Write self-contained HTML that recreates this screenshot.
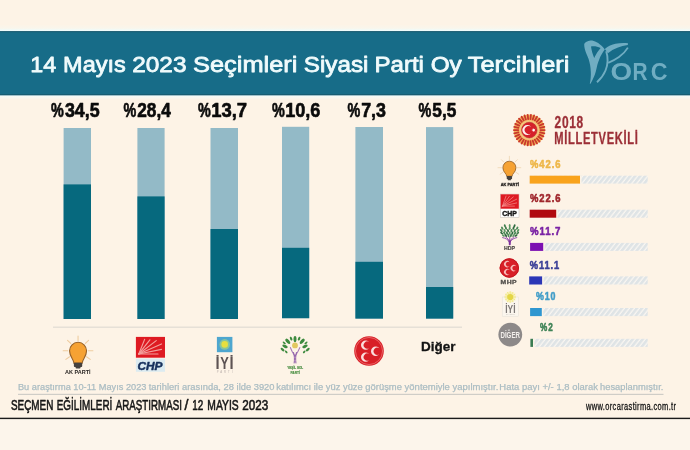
<!DOCTYPE html>
<html lang="tr">
<head>
<meta charset="utf-8">
<title>14 Mayıs 2023 Seçimleri Siyasi Parti Oy Tercihleri</title>
<style>
html,body{margin:0;padding:0;background:#fdf3e6;}
body{width:690px;height:450px;overflow:hidden;position:relative;font-family:"Liberation Sans",sans-serif;}
svg{position:absolute;left:0;top:0;display:block}
text{font-family:"Liberation Sans",sans-serif;}
.b{font-weight:bold}
.i{font-style:italic}
</style>
</head>
<body>
<svg width="690" height="450" viewBox="0 0 690 450">
<defs>
<pattern id="hatch" width="5" height="10" patternUnits="userSpaceOnUse" patternTransform="translate(531 0) skewX(-38)">
<rect x="0" y="0" width="5" height="10" fill="#f9f6f1"/>
<rect x="0" y="0" width="3.4" height="10" fill="#dfe4e6"/>
</pattern>
<linearGradient id="strip" x1="0" y1="0" x2="0" y2="1">
<stop offset="0" stop-color="#fdf3e6"/><stop offset="0.55" stop-color="#f9f6ec"/><stop offset="0.8" stop-color="#effbfa"/><stop offset="1" stop-color="#f4fdfd"/>
</linearGradient>
<linearGradient id="strip2" x1="0" y1="0" x2="0" y2="1">
<stop offset="0" stop-color="#f0fbfa"/><stop offset="0.4" stop-color="#f7f9f3"/><stop offset="1" stop-color="#fdf3e6"/>
</linearGradient>
</defs>
<rect x="0" y="0" width="690" height="450" fill="#fdf3e6"/>

<g id="header">
<rect x="0" y="24.5" width="690" height="7" fill="url(#strip)"/>
<rect x="0" y="95" width="690" height="5" fill="url(#strip2)"/>
<rect x="0" y="31.2" width="690" height="64" fill="#176c88"/>
<rect x="0" y="31.2" width="690" height="1" fill="#1d5b6f"/>
<rect x="0" y="94.1" width="690" height="1.1" fill="#175c72"/>
<text y="72.2" font-size="22.9" fill="#f0fbfc" stroke="#f0fbfc" stroke-width="0.8" stroke-linejoin="round"><tspan x="30.26" textLength="25.93" lengthAdjust="spacingAndGlyphs">14</tspan> <tspan x="63.07" textLength="62.73" lengthAdjust="spacingAndGlyphs">Mayıs</tspan> <tspan x="132.21" textLength="54.26" lengthAdjust="spacingAndGlyphs">2023</tspan> <tspan x="193.00" textLength="104.46" lengthAdjust="spacingAndGlyphs">Seçimleri</tspan> <tspan x="303.83" textLength="64.58" lengthAdjust="spacingAndGlyphs">Siyasi</tspan> <tspan x="374.43" textLength="49.54" lengthAdjust="spacingAndGlyphs">Parti</tspan> <tspan x="430.67" textLength="31.07" lengthAdjust="spacingAndGlyphs">Oy</tspan> <tspan x="467.77" textLength="101.66" lengthAdjust="spacingAndGlyphs">Tercihleri</tspan></text>
</g>
<g id="orc" fill="#70adc2">
<path fill-rule="evenodd" d="M584.2 44 C585 42.5 587.5 40.8 590.5 40.5 C594 40.3 599 43 602.3 46.5 C603.3 47.5 604.2 48.6 604.8 49.6 C602.6 52.6 600.6 56 599.4 58.9 C598.4 61.2 597.8 63.2 597.3 65.1 C596.8 67.2 596.4 69.3 595.8 71.4 C595.2 73.5 594.5 75.6 593.6 77.6 C592.7 79.7 591.6 81.8 590.5 83.8 L589.8 83.8 C590.3 81.7 590.6 79.7 590.7 77.6 C590.9 75.5 590.9 73.5 590.8 71.4 C590.7 69.3 590.5 67.2 590.1 65.1 C589.7 63 589.2 61 588.6 58.9 C588 57.2 587.2 55.5 586.5 53.9 C585.8 52.3 585.2 50.6 584.8 48.9 C584.4 47.3 584.1 45.6 584.2 44 Z M591 46.4 C591.5 50 592.6 54 594.2 58 C596 54 598.2 50.6 600.6 47.9 C597.5 46.3 594 46 591 46.4 Z"/>
<path d="M604.8 49 C608 46 612 44.5 615.5 43.7 C619.5 42.9 624 42.7 628 43.2 L627.8 45 C624 45.5 621 46.3 618 47.5 C614 49 610.5 51 607.9 53.3 C606.9 51.8 605.8 50.3 604.8 49 Z"/>
<path d="M606.2 51.2 C608.4 58 607.9 64.5 605.5 70.5 C603.5 75.3 600.5 79.2 597 82.2" fill="none" stroke="#70adc2" stroke-width="1.9"/>
<path d="M627.9 47.6 C625.5 51.5 622.4 54.6 619 57 C615.6 59.4 612 61.3 608.2 62.8" fill="none" stroke="#70adc2" stroke-width="1.8"/>
<text y="79.9" font-size="24.0" fill="#70adc2" class="b"><tspan x="610.49" textLength="21.60" lengthAdjust="spacingAndGlyphs">O</tspan><tspan x="632.49" textLength="15.07" lengthAdjust="spacingAndGlyphs">R</tspan><tspan x="650.77" textLength="16.76" lengthAdjust="spacingAndGlyphs">C</tspan></text>
</g>
<g id="bars">
<rect x="63.6" y="128.0" width="27.4" height="191.0" fill="#93bac7"/>
<rect x="63.6" y="184.4" width="27.4" height="134.6" fill="#06697e"/>
<rect x="137.4" y="128.0" width="27.2" height="191.0" fill="#93bac7"/>
<rect x="137.4" y="196.4" width="27.2" height="122.6" fill="#06697e"/>
<rect x="210.5" y="128.0" width="27.5" height="191.0" fill="#93bac7"/>
<rect x="210.5" y="229.0" width="27.5" height="90.0" fill="#06697e"/>
<rect x="282.0" y="126.8" width="27.2" height="191.4" fill="#93bac7"/>
<rect x="282.0" y="247.8" width="27.2" height="70.4" fill="#06697e"/>
<rect x="355.4" y="127.0" width="27.6" height="191.6" fill="#93bac7"/>
<rect x="355.4" y="261.8" width="27.6" height="56.8" fill="#06697e"/>
<rect x="426.0" y="127.1" width="27.2" height="191.5" fill="#93bac7"/>
<rect x="426.0" y="287.0" width="27.2" height="31.6" fill="#06697e"/>
<rect x="53" y="326.7" width="409" height="0.9" fill="#d8d5cd"/>
</g>
<g id="vals">
<text y="117.1" font-size="20.4" fill="#0b0b0b" class="b" stroke="#0b0b0b" stroke-width="0.65" stroke-linejoin="round"><tspan x="50.97" textLength="12.78" lengthAdjust="spacingAndGlyphs">%</tspan><tspan x="64.88" textLength="34.75" lengthAdjust="spacingAndGlyphs">34,5</tspan></text>
<text y="117.1" font-size="20.4" fill="#0b0b0b" class="b" stroke="#0b0b0b" stroke-width="0.65" stroke-linejoin="round"><tspan x="123.57" textLength="12.78" lengthAdjust="spacingAndGlyphs">%</tspan><tspan x="137.27" textLength="33.56" lengthAdjust="spacingAndGlyphs">28,4</tspan></text>
<text y="117.1" font-size="20.4" fill="#0b0b0b" class="b" stroke="#0b0b0b" stroke-width="0.65" stroke-linejoin="round"><tspan x="197.97" textLength="12.78" lengthAdjust="spacingAndGlyphs">%</tspan><tspan x="211.14" textLength="35.98" lengthAdjust="spacingAndGlyphs">13,7</tspan></text>
<text y="117.1" font-size="20.4" fill="#0b0b0b" class="b" stroke="#0b0b0b" stroke-width="0.65" stroke-linejoin="round"><tspan x="271.97" textLength="12.78" lengthAdjust="spacingAndGlyphs">%</tspan><tspan x="285.16" textLength="35.21" lengthAdjust="spacingAndGlyphs">10,6</tspan></text>
<text y="117.1" font-size="20.4" fill="#0b0b0b" class="b" stroke="#0b0b0b" stroke-width="0.65" stroke-linejoin="round"><tspan x="347.57" textLength="12.78" lengthAdjust="spacingAndGlyphs">%</tspan><tspan x="361.13" textLength="24.82" lengthAdjust="spacingAndGlyphs">7,3</tspan></text>
<text y="117.1" font-size="20.4" fill="#0b0b0b" class="b" stroke="#0b0b0b" stroke-width="0.65" stroke-linejoin="round"><tspan x="418.57" textLength="12.78" lengthAdjust="spacingAndGlyphs">%</tspan><tspan x="432.36" textLength="24.05" lengthAdjust="spacingAndGlyphs">5,5</tspan></text>
</g>
<g id="logos">
<g>
<line x1="78.05" y1="340.43" x2="78.05" y2="335.93" stroke="#efcda0" stroke-width="1.10" stroke-linecap="round"/>
<line x1="85.38" y1="343.47" x2="88.57" y2="340.28" stroke="#efcda0" stroke-width="1.10" stroke-linecap="round"/>
<line x1="70.72" y1="343.47" x2="67.53" y2="340.28" stroke="#efcda0" stroke-width="1.10" stroke-linecap="round"/>
<line x1="88.42" y1="350.80" x2="92.92" y2="350.80" stroke="#efcda0" stroke-width="1.10" stroke-linecap="round"/>
<line x1="67.68" y1="350.80" x2="63.17" y2="350.80" stroke="#efcda0" stroke-width="1.10" stroke-linecap="round"/>
<line x1="86.54" y1="356.75" x2="90.23" y2="359.33" stroke="#efcda0" stroke-width="1.10" stroke-linecap="round"/>
<line x1="69.56" y1="356.75" x2="65.87" y2="359.33" stroke="#efcda0" stroke-width="1.10" stroke-linecap="round"/>
<path d="M73.88 363.12 C73.88 359.56 69.55 356.75 69.55 350.80 A8.50 8.50 0 0 1 86.55 350.80 C86.55 356.75 82.22 359.56 82.22 363.12 Z" fill="#f6a233" stroke="#96622a" stroke-width="1.10"/>
<rect x="73.88" y="362.70" width="8.33" height="4.25" rx="0.85" fill="#45413e"/>
<rect x="75.55" y="366.52" width="5.00" height="1.87" rx="0.85" fill="#45413e"/>
<text transform="translate(65.06 374.0) scale(1.1246 1)" font-size="4.9" fill="#2a2624" class="b">AK PARTİ</text>
</g>
<g>
<rect x="135.9" y="336.9" width="29.1" height="20.8" fill="#de1a22"/>
<line x1="138.81" y1="353.96" x2="144.63" y2="339.40" stroke="#f3a09c" stroke-width="1.16" stroke-linecap="round"/>
<line x1="138.81" y1="353.96" x2="149.87" y2="339.81" stroke="#f3a09c" stroke-width="1.16" stroke-linecap="round"/>
<line x1="138.81" y1="353.96" x2="156.27" y2="340.64" stroke="#f3a09c" stroke-width="1.16" stroke-linecap="round"/>
<line x1="138.81" y1="353.96" x2="161.51" y2="343.97" stroke="#f3a09c" stroke-width="1.16" stroke-linecap="round"/>
<line x1="138.81" y1="353.96" x2="161.51" y2="349.38" stroke="#f3a09c" stroke-width="1.16" stroke-linecap="round"/>
<line x1="138.81" y1="353.96" x2="158.02" y2="353.96" stroke="#f3a09c" stroke-width="1.16" stroke-linecap="round"/>
<rect x="135.9" y="358.6" width="29.1" height="13.2" fill="#dcebf1"/>
<text transform="translate(137.49 369.5) scale(1.0138 1)" font-size="11.7" fill="#16305c" class="b i" stroke="#16305c" stroke-width="0.5" stroke-linejoin="round">CHP</text>
</g>
<g>
<rect x="216.9" y="336.9" width="15.5" height="15.3" fill="#4ea6cf"/>
<circle cx="224.7" cy="344.4" r="5.3" fill="#9ccf8b" opacity="0.75"/>
<circle cx="224.7" cy="344.4" r="3.3" fill="#e6df3f"/>
<text y="368.9" font-size="16.0" fill="#5d5353" class="b"><tspan x="215.61" textLength="4.09" lengthAdjust="spacingAndGlyphs">İ</tspan><tspan x="220.18" textLength="8.54" lengthAdjust="spacingAndGlyphs">Y</tspan><tspan x="229.51" textLength="4.09" lengthAdjust="spacingAndGlyphs">İ</tspan></text>
<text transform="translate(216.67 373.2) scale(0.9000 1)" font-size="3.1" fill="#b9aeaa" letter-spacing="2.175">PARTİ</text>
</g>
<g>
<ellipse cx="295.00" cy="339.11" rx="1.50" ry="3.10" transform="rotate(0 295.00 339.11)" fill="#3d8a3e"/>
<ellipse cx="291.11" cy="338.67" rx="1.10" ry="2.00" transform="rotate(-25 291.11 338.67)" fill="#3d8a3e"/>
<ellipse cx="299.11" cy="338.67" rx="1.10" ry="2.00" transform="rotate(25 299.11 338.67)" fill="#3d8a3e"/>
<ellipse cx="287.78" cy="341.33" rx="1.60" ry="3.20" transform="rotate(-40 287.78 341.33)" fill="#3d8a3e"/>
<ellipse cx="302.22" cy="341.33" rx="1.60" ry="3.20" transform="rotate(40 302.22 341.33)" fill="#3d8a3e"/>
<ellipse cx="285.00" cy="346.33" rx="1.50" ry="2.90" transform="rotate(-65 285.00 346.33)" fill="#3d8a3e"/>
<ellipse cx="305.00" cy="346.33" rx="1.50" ry="2.90" transform="rotate(65 305.00 346.33)" fill="#3d8a3e"/>
<ellipse cx="282.56" cy="349.56" rx="1.20" ry="2.30" transform="rotate(-50 282.56 349.56)" fill="#3d8a3e"/>
<ellipse cx="307.78" cy="349.56" rx="1.20" ry="2.30" transform="rotate(50 307.78 349.56)" fill="#3d8a3e"/>
<ellipse cx="286.22" cy="351.89" rx="0.90" ry="1.70" transform="rotate(-40 286.22 351.89)" fill="#3d8a3e"/>
<ellipse cx="304.22" cy="351.89" rx="0.90" ry="1.70" transform="rotate(40 304.22 351.89)" fill="#3d8a3e"/>
<ellipse cx="284.22" cy="342.89" rx="0.90" ry="1.80" transform="rotate(-55 284.22 342.89)" fill="#3d8a3e"/>
<ellipse cx="306.00" cy="342.89" rx="0.90" ry="1.80" transform="rotate(55 306.00 342.89)" fill="#3d8a3e"/>
<circle cx="295" cy="345.4" r="2.9" fill="#e2c860"/>
<path d="M290.4 347.6 C291.8 351.5 293.8 354.5 295 356.2 C296.2 354.5 298.2 351.5 299.8 347.6" fill="none" stroke="#a178b6" stroke-width="1.1" stroke-linecap="round"/>
<path d="M293.6 352.5 C294.6 356 294.6 359.5 294.2 363 M296.4 352.5 C295.5 356 295.5 359.5 295.9 363" fill="none" stroke="#8e5aa8" stroke-width="1" stroke-linecap="round"/>
<text transform="translate(287.22 369.0) scale(0.7729 1)" font-size="4.0" fill="#4e9146" class="b" stroke="#4e9146" stroke-width="0.2" stroke-linejoin="round">YEŞİL SOL</text>
<text transform="translate(290.46 373.6) scale(0.8099 1)" font-size="4.0" fill="#4e9146" class="b" stroke="#4e9146" stroke-width="0.2" stroke-linejoin="round">PARTİ</text>
</g>
<g>
<circle cx="369" cy="351" r="14.8" fill="#d81f27"/>
<circle cx="369" cy="351" r="13.54" fill="none" stroke="#ec6a6c" stroke-width="0.89"/>
<path fill="#fbdedd" d="M369.42 342.23 A4.70 4.70 0 1 0 369.42 347.97 A3.60 3.60 0 1 1 369.42 342.23 Z"/>
<path fill="#fbdedd" d="M379.42 348.33 A4.70 4.70 0 1 0 379.42 354.07 A3.60 3.60 0 1 1 379.42 348.33 Z"/>
<path fill="#fbdedd" d="M369.42 354.23 A4.70 4.70 0 1 0 369.42 359.97 A3.60 3.60 0 1 1 369.42 354.23 Z"/>
</g>
<text transform="translate(420.95 351.0) scale(1.0377 1)" font-size="13.0" fill="#141414" class="b" stroke="#141414" stroke-width="0.3" stroke-linejoin="round">Diğer</text>
</g>
<g id="panel">
<circle cx="529.3" cy="130.1" r="15.7" fill="#f3b15a"/>
<line x1="540.30" y1="130.10" x2="544.70" y2="130.10" stroke="#c9382d" stroke-width="1.8" stroke-linecap="round"/>
<line x1="540.06" y1="132.39" x2="544.36" y2="133.30" stroke="#c9382d" stroke-width="1.8" stroke-linecap="round"/>
<line x1="539.35" y1="134.57" x2="543.37" y2="136.36" stroke="#c9382d" stroke-width="1.8" stroke-linecap="round"/>
<line x1="538.20" y1="136.57" x2="541.76" y2="139.15" stroke="#c9382d" stroke-width="1.8" stroke-linecap="round"/>
<line x1="536.66" y1="138.27" x2="539.60" y2="141.54" stroke="#c9382d" stroke-width="1.8" stroke-linecap="round"/>
<line x1="534.80" y1="139.63" x2="537.00" y2="143.44" stroke="#c9382d" stroke-width="1.8" stroke-linecap="round"/>
<line x1="532.70" y1="140.56" x2="534.06" y2="144.75" stroke="#c9382d" stroke-width="1.8" stroke-linecap="round"/>
<line x1="530.45" y1="141.04" x2="530.91" y2="145.42" stroke="#c9382d" stroke-width="1.8" stroke-linecap="round"/>
<line x1="528.15" y1="141.04" x2="527.69" y2="145.42" stroke="#c9382d" stroke-width="1.8" stroke-linecap="round"/>
<line x1="525.90" y1="140.56" x2="524.54" y2="144.75" stroke="#c9382d" stroke-width="1.8" stroke-linecap="round"/>
<line x1="523.80" y1="139.63" x2="521.60" y2="143.44" stroke="#c9382d" stroke-width="1.8" stroke-linecap="round"/>
<line x1="521.94" y1="138.27" x2="519.00" y2="141.54" stroke="#c9382d" stroke-width="1.8" stroke-linecap="round"/>
<line x1="520.40" y1="136.57" x2="516.84" y2="139.15" stroke="#c9382d" stroke-width="1.8" stroke-linecap="round"/>
<line x1="519.25" y1="134.57" x2="515.23" y2="136.36" stroke="#c9382d" stroke-width="1.8" stroke-linecap="round"/>
<line x1="518.54" y1="132.39" x2="514.24" y2="133.30" stroke="#c9382d" stroke-width="1.8" stroke-linecap="round"/>
<line x1="518.30" y1="130.10" x2="513.90" y2="130.10" stroke="#c9382d" stroke-width="1.8" stroke-linecap="round"/>
<line x1="518.54" y1="127.81" x2="514.24" y2="126.90" stroke="#c9382d" stroke-width="1.8" stroke-linecap="round"/>
<line x1="519.25" y1="125.63" x2="515.23" y2="123.84" stroke="#c9382d" stroke-width="1.8" stroke-linecap="round"/>
<line x1="520.40" y1="123.63" x2="516.84" y2="121.05" stroke="#c9382d" stroke-width="1.8" stroke-linecap="round"/>
<line x1="521.94" y1="121.93" x2="519.00" y2="118.66" stroke="#c9382d" stroke-width="1.8" stroke-linecap="round"/>
<line x1="523.80" y1="120.57" x2="521.60" y2="116.76" stroke="#c9382d" stroke-width="1.8" stroke-linecap="round"/>
<line x1="525.90" y1="119.64" x2="524.54" y2="115.45" stroke="#c9382d" stroke-width="1.8" stroke-linecap="round"/>
<line x1="528.15" y1="119.16" x2="527.69" y2="114.78" stroke="#c9382d" stroke-width="1.8" stroke-linecap="round"/>
<line x1="530.45" y1="119.16" x2="530.91" y2="114.78" stroke="#c9382d" stroke-width="1.8" stroke-linecap="round"/>
<line x1="532.70" y1="119.64" x2="534.06" y2="115.45" stroke="#c9382d" stroke-width="1.8" stroke-linecap="round"/>
<line x1="534.80" y1="120.57" x2="537.00" y2="116.76" stroke="#c9382d" stroke-width="1.8" stroke-linecap="round"/>
<line x1="536.66" y1="121.93" x2="539.60" y2="118.66" stroke="#c9382d" stroke-width="1.8" stroke-linecap="round"/>
<line x1="538.20" y1="123.63" x2="541.76" y2="121.05" stroke="#c9382d" stroke-width="1.8" stroke-linecap="round"/>
<line x1="539.35" y1="125.63" x2="543.37" y2="123.84" stroke="#c9382d" stroke-width="1.8" stroke-linecap="round"/>
<line x1="540.06" y1="127.81" x2="544.36" y2="126.90" stroke="#c9382d" stroke-width="1.8" stroke-linecap="round"/>
<circle cx="529.3" cy="130.1" r="10.2" fill="#f4c37c"/>
<circle cx="529.3" cy="130.1" r="7.8" fill="#d6202a" stroke="#b5262b" stroke-width="0.5"/>
<path fill="#fdeeee" d="M531.21 126.99 A5.00 5.00 0 1 0 531.21 133.21 A4.00 4.00 0 1 1 531.21 126.99 Z"/>
<polygon points="531.40,130.10 532.87,129.57 532.92,128.01 533.88,129.24 535.38,128.81 534.50,130.10 535.38,131.39 533.88,130.96 532.92,132.19 532.87,130.63" fill="#fff"/>
<text transform="translate(554.59 128.1) scale(0.7514 1)" font-size="15.9" fill="#9c2f37" class="b" letter-spacing="0.932" stroke="#9c2f37" stroke-width="0.3" stroke-linejoin="round">2018</text>
<text transform="translate(554.25 144.0) scale(0.6995 1)" font-size="15.9" fill="#9c2f37" class="b" letter-spacing="1.001" stroke="#9c2f37" stroke-width="0.3" stroke-linejoin="round">MİLLETVEKİLİ</text>
<rect x="529.7" y="175.7" width="118.0" height="7.9" fill="url(#hatch)"/>
<rect x="529.7" y="175.7" width="51.8" height="7.9" fill="#fdf3e6"/>
<rect x="529.7" y="175.7" width="50.3" height="7.9" fill="#f9a31c"/>
<text transform="translate(530.11 167.8) scale(0.8044 1)" font-size="11.7" fill="#eeb748" class="b" letter-spacing="1.119" stroke="#eeb748" stroke-width="0.6" stroke-linejoin="round">%42.6</text>
<rect x="529.7" y="209.7" width="118.0" height="8.0" fill="url(#hatch)"/>
<rect x="529.7" y="209.7" width="28.0" height="8.0" fill="#fdf3e6"/>
<rect x="529.7" y="209.7" width="26.5" height="8.0" fill="#b0090f"/>
<text transform="translate(530.11 201.5) scale(0.8044 1)" font-size="11.7" fill="#a0272d" class="b" letter-spacing="1.119" stroke="#a0272d" stroke-width="0.6" stroke-linejoin="round">%22.6</text>
<rect x="530.1" y="242.9" width="117.6" height="8.0" fill="url(#hatch)"/>
<rect x="530.1" y="242.9" width="14.6" height="8.0" fill="#fdf3e6"/>
<rect x="530.1" y="242.9" width="13.1" height="8.0" fill="#7c10b2"/>
<text transform="translate(530.11 235.2) scale(0.8226 1)" font-size="11.7" fill="#7a22a4" class="b" letter-spacing="1.094" stroke="#7a22a4" stroke-width="0.6" stroke-linejoin="round">%11.7</text>
<rect x="529.2" y="276.4" width="118.5" height="8.1" fill="url(#hatch)"/>
<rect x="529.2" y="276.4" width="14.4" height="8.1" fill="#fdf3e6"/>
<rect x="529.2" y="276.4" width="12.9" height="8.1" fill="#2b36b6"/>
<text transform="translate(529.71 268.7) scale(0.7966 1)" font-size="11.7" fill="#3c4098" class="b" letter-spacing="1.130" stroke="#3c4098" stroke-width="0.6" stroke-linejoin="round">%11.1</text>
<rect x="530.1" y="308.0" width="117.6" height="8.1" fill="url(#hatch)"/>
<rect x="530.1" y="308.0" width="13.2" height="8.1" fill="#fdf3e6"/>
<rect x="530.1" y="308.0" width="11.7" height="8.1" fill="#2f96d0"/>
<text transform="translate(535.91 300.0) scale(0.7573 1)" font-size="11.7" fill="#429dc8" class="b" letter-spacing="1.188" stroke="#429dc8" stroke-width="0.6" stroke-linejoin="round">%10</text>
<rect x="530.4" y="338.8" width="117.3" height="8.1" fill="url(#hatch)"/>
<rect x="530.4" y="338.8" width="4.1" height="8.1" fill="#fdf3e6"/>
<rect x="530.4" y="338.8" width="2.6" height="8.1" fill="#3a7c53"/>
<text transform="translate(540.01 330.9) scale(0.6975 1)" font-size="11.7" fill="#3f8357" class="b" letter-spacing="1.290" stroke="#3f8357" stroke-width="0.6" stroke-linejoin="round">%2</text>
<g>
<line x1="509.40" y1="159.77" x2="509.40" y2="156.32" stroke="#eed6b4" stroke-width="0.84" stroke-linecap="round"/>
<line x1="515.01" y1="162.09" x2="517.44" y2="159.66" stroke="#eed6b4" stroke-width="0.84" stroke-linecap="round"/>
<line x1="503.79" y1="162.09" x2="501.36" y2="159.66" stroke="#eed6b4" stroke-width="0.84" stroke-linecap="round"/>
<line x1="517.33" y1="167.70" x2="520.77" y2="167.70" stroke="#eed6b4" stroke-width="0.84" stroke-linecap="round"/>
<line x1="501.47" y1="167.70" x2="498.02" y2="167.70" stroke="#eed6b4" stroke-width="0.84" stroke-linecap="round"/>
<line x1="515.90" y1="172.25" x2="518.72" y2="174.22" stroke="#eed6b4" stroke-width="0.84" stroke-linecap="round"/>
<line x1="502.90" y1="172.25" x2="500.08" y2="174.22" stroke="#eed6b4" stroke-width="0.84" stroke-linecap="round"/>
<path d="M506.73 176.28 C506.73 173.55 502.90 172.25 502.90 167.70 A6.50 6.50 0 0 1 515.90 167.70 C515.90 172.25 512.06 173.55 512.06 176.28 Z" fill="#f6a233" stroke="#96622a" stroke-width="0.84"/>
<rect x="506.73" y="175.96" width="5.33" height="3.25" rx="0.65" fill="#45413e"/>
<rect x="507.80" y="178.88" width="3.20" height="1.43" rx="0.65" fill="#45413e"/>
<text transform="translate(500.64 185.6) scale(1.1240 1)" font-size="3.5" fill="#1f1c1b" class="b" stroke="#1f1c1b" stroke-width="0.25" stroke-linejoin="round">AK PARTİ</text>
</g>
<g>
<rect x="500.4" y="194.1" width="18.6" height="23.2" fill="#fff" stroke="#c3bbb6" stroke-width="0.5"/>
<rect x="500.6" y="194.3" width="18.2" height="14.4" fill="#de1a22"/>
<line x1="502.42" y1="206.11" x2="506.06" y2="196.03" stroke="#f28e8b" stroke-width="0.73" stroke-linecap="round"/>
<line x1="502.42" y1="206.11" x2="509.34" y2="196.32" stroke="#f28e8b" stroke-width="0.73" stroke-linecap="round"/>
<line x1="502.42" y1="206.11" x2="513.34" y2="196.89" stroke="#f28e8b" stroke-width="0.73" stroke-linecap="round"/>
<line x1="502.42" y1="206.11" x2="516.62" y2="199.20" stroke="#f28e8b" stroke-width="0.73" stroke-linecap="round"/>
<line x1="502.42" y1="206.11" x2="516.62" y2="202.94" stroke="#f28e8b" stroke-width="0.73" stroke-linecap="round"/>
<line x1="502.42" y1="206.11" x2="514.43" y2="206.11" stroke="#f28e8b" stroke-width="0.73" stroke-linecap="round"/>
<text transform="translate(502.22 216.0) scale(0.8657 1)" font-size="8.0" fill="#161616" class="b" stroke="#161616" stroke-width="0.45" stroke-linejoin="round">CHP</text>
</g>
<g>
<ellipse cx="504.87" cy="225.80" rx="0.95" ry="1.7" transform="rotate(-18 504.87 225.80)" fill="#3f7d4d"/>
<ellipse cx="509.70" cy="225.80" rx="0.95" ry="1.7" transform="rotate(0 509.70 225.80)" fill="#5a9762"/>
<ellipse cx="514.53" cy="225.80" rx="0.95" ry="1.7" transform="rotate(18 514.53 225.80)" fill="#2f6b3f"/>
<ellipse cx="502.22" cy="228.20" rx="0.95" ry="1.7" transform="rotate(-31 502.22 228.20)" fill="#4b8a58"/>
<ellipse cx="505.96" cy="228.20" rx="0.95" ry="1.7" transform="rotate(-17 505.96 228.20)" fill="#3f7d4d"/>
<ellipse cx="509.70" cy="228.20" rx="0.95" ry="1.7" transform="rotate(0 509.70 228.20)" fill="#5a9762"/>
<ellipse cx="513.44" cy="228.20" rx="0.95" ry="1.7" transform="rotate(17 513.44 228.20)" fill="#2f6b3f"/>
<ellipse cx="517.18" cy="228.20" rx="0.95" ry="1.7" transform="rotate(31 517.18 228.20)" fill="#4b8a58"/>
<ellipse cx="501.33" cy="230.60" rx="0.95" ry="1.7" transform="rotate(-40 501.33 230.60)" fill="#3f7d4d"/>
<ellipse cx="504.68" cy="230.60" rx="0.95" ry="1.7" transform="rotate(-27 504.68 230.60)" fill="#5a9762"/>
<ellipse cx="508.03" cy="230.60" rx="0.95" ry="1.7" transform="rotate(-10 508.03 230.60)" fill="#2f6b3f"/>
<ellipse cx="511.37" cy="230.60" rx="0.95" ry="1.7" transform="rotate(10 511.37 230.60)" fill="#4b8a58"/>
<ellipse cx="514.72" cy="230.60" rx="0.95" ry="1.7" transform="rotate(27 514.72 230.60)" fill="#3f7d4d"/>
<ellipse cx="518.07" cy="230.60" rx="0.95" ry="1.7" transform="rotate(40 518.07 230.60)" fill="#5a9762"/>
<ellipse cx="501.66" cy="233.10" rx="0.95" ry="1.7" transform="rotate(-47 501.66 233.10)" fill="#2f6b3f"/>
<ellipse cx="504.34" cy="233.10" rx="0.95" ry="1.7" transform="rotate(-36 504.34 233.10)" fill="#4b8a58"/>
<ellipse cx="507.02" cy="233.10" rx="0.95" ry="1.7" transform="rotate(-20 507.02 233.10)" fill="#3f7d4d"/>
<ellipse cx="509.70" cy="233.10" rx="0.95" ry="1.7" transform="rotate(0 509.70 233.10)" fill="#5a9762"/>
<ellipse cx="512.38" cy="233.10" rx="0.95" ry="1.7" transform="rotate(20 512.38 233.10)" fill="#2f6b3f"/>
<ellipse cx="515.06" cy="233.10" rx="0.95" ry="1.7" transform="rotate(36 515.06 233.10)" fill="#4b8a58"/>
<ellipse cx="517.74" cy="233.10" rx="0.95" ry="1.7" transform="rotate(47 517.74 233.10)" fill="#3f7d4d"/>
<ellipse cx="503.33" cy="235.50" rx="0.95" ry="1.7" transform="rotate(-52 503.33 235.50)" fill="#5a9762"/>
<ellipse cx="505.88" cy="235.50" rx="0.95" ry="1.7" transform="rotate(-37 505.88 235.50)" fill="#2f6b3f"/>
<ellipse cx="508.43" cy="235.50" rx="0.95" ry="1.7" transform="rotate(-14 508.43 235.50)" fill="#4b8a58"/>
<ellipse cx="510.97" cy="235.50" rx="0.95" ry="1.7" transform="rotate(14 510.97 235.50)" fill="#3f7d4d"/>
<ellipse cx="513.52" cy="235.50" rx="0.95" ry="1.7" transform="rotate(37 513.52 235.50)" fill="#5a9762"/>
<ellipse cx="516.07" cy="235.50" rx="0.95" ry="1.7" transform="rotate(52 516.07 235.50)" fill="#2f6b3f"/>
<path d="M502.6 237.6 C505.5 238.2 508 239.4 509.1 241.6 M516.8 237.6 C514 238.2 511.5 239.4 510.4 241.6 M505.6 236.8 C507.4 238 508.8 239.6 509.3 241.6 M513.9 236.8 C512.1 238 510.7 239.6 510.2 241.6 M509.75 237 L509.75 245" fill="none" stroke="#8a3fa6" stroke-width="0.9" stroke-linecap="round"/>
<path d="M508.6 240.5 L508.9 245 L510.6 245 L510.9 240.5 Z" fill="#7d2f9c"/>
<text transform="translate(503.94 250.2) scale(0.8939 1)" font-size="5.8" fill="#4b4644" class="b" stroke="#4b4644" stroke-width="0.2" stroke-linejoin="round">HDP</text>
</g>
<g>
<circle cx="509.3" cy="268.0" r="9.7" fill="#d81f27"/>
<circle cx="509.3" cy="268.0" r="9.21" fill="none" stroke="#c3161f" stroke-width="0.97"/>
<path fill="#f8bcba" d="M509.58 262.25 A3.08 3.08 0 1 0 509.58 266.02 A2.36 2.36 0 1 1 509.58 262.25 Z"/>
<path fill="#f8bcba" d="M516.13 266.25 A3.08 3.08 0 1 0 516.13 270.01 A2.36 2.36 0 1 1 516.13 266.25 Z"/>
<path fill="#f8bcba" d="M509.58 270.12 A3.08 3.08 0 1 0 509.58 273.88 A2.36 2.36 0 1 1 509.58 270.12 Z"/>
<text transform="translate(500.53 284.3) scale(1.2375 1)" font-size="5.5" fill="#55524f" class="b" letter-spacing="0.404" stroke="#55524f" stroke-width="0.3" stroke-linejoin="round">MHP</text>
</g>
<g>
<rect x="502.2" y="297" width="16.2" height="19.2" fill="#fbf6ee" stroke="#e3dfd8" stroke-width="0.5"/>
<circle cx="510.2" cy="297" r="5.6" fill="#f6ee9a" opacity="0.55"/>
<line x1="513.20" y1="297.00" x2="516.00" y2="297.00" stroke="#f1e67c" stroke-width="0.8"/>
<line x1="512.80" y1="298.50" x2="515.22" y2="299.90" stroke="#f1e67c" stroke-width="0.8"/>
<line x1="511.70" y1="299.60" x2="513.10" y2="302.02" stroke="#f1e67c" stroke-width="0.8"/>
<line x1="510.20" y1="300.00" x2="510.20" y2="302.80" stroke="#f1e67c" stroke-width="0.8"/>
<line x1="508.70" y1="299.60" x2="507.30" y2="302.02" stroke="#f1e67c" stroke-width="0.8"/>
<line x1="507.60" y1="298.50" x2="505.18" y2="299.90" stroke="#f1e67c" stroke-width="0.8"/>
<line x1="507.20" y1="297.00" x2="504.40" y2="297.00" stroke="#f1e67c" stroke-width="0.8"/>
<line x1="507.60" y1="295.50" x2="505.18" y2="294.10" stroke="#f1e67c" stroke-width="0.8"/>
<line x1="508.70" y1="294.40" x2="507.30" y2="291.98" stroke="#f1e67c" stroke-width="0.8"/>
<line x1="510.20" y1="294.00" x2="510.20" y2="291.20" stroke="#f1e67c" stroke-width="0.8"/>
<line x1="511.70" y1="294.40" x2="513.10" y2="291.98" stroke="#f1e67c" stroke-width="0.8"/>
<line x1="512.80" y1="295.50" x2="515.22" y2="294.10" stroke="#f1e67c" stroke-width="0.8"/>
<circle cx="510.2" cy="297" r="3.1" fill="#e4d646"/>
<text transform="translate(505.23 312.7) scale(0.8294 1)" font-size="10.2" fill="#7d7876" class="b">İYİ</text>
<text transform="translate(505.73 315.0) scale(1.8259 1)" font-size="1.8" fill="#c9c4be">PARTİ</text>
</g>
<g>
<circle cx="510.3" cy="334.6" r="11.9" fill="#8d8989"/>
<text transform="translate(500.49 338.1) scale(0.7311 1)" font-size="8.4" fill="#f3efec" class="b">DİĞER</text>
</g>
</g>
<g id="footer">
<text y="390.4" font-size="9.0" fill="#abbdc3" stroke="#abbdc3" stroke-width="0.25" stroke-linejoin="round"><tspan x="17.97" textLength="128.50" lengthAdjust="spacingAndGlyphs">Bu araştırma 10-11 Mayıs 2023</tspan> <tspan x="148.69" textLength="125.84" lengthAdjust="spacingAndGlyphs">tarihleri arasında, 28 ilde 3920</tspan> <tspan x="276.20" textLength="125.69" lengthAdjust="spacingAndGlyphs">katılımcı ile yüz yüze görüşme</tspan> <tspan x="404.61" textLength="93.71" lengthAdjust="spacingAndGlyphs">yöntemiyle yapılmıştır.</tspan> <tspan x="499.35" textLength="98.62" lengthAdjust="spacingAndGlyphs">Hata payı +/- 1,8 olarak</tspan> <tspan x="600.08" textLength="63.25" lengthAdjust="spacingAndGlyphs">hesaplanmıştır.</tspan></text>
<rect x="18" y="393.8" width="645.5" height="1.2" fill="#cfcdc7"/>
<text y="410.4" font-size="13.8" fill="#161616" stroke="#161616" stroke-width="0.55" stroke-linejoin="round"><tspan x="10.95" textLength="42.38" lengthAdjust="spacingAndGlyphs">SEÇMEN</tspan> <tspan x="56.78" textLength="55.54" lengthAdjust="spacingAndGlyphs">EĞİLİMLERİ</tspan> <tspan x="115.77" textLength="66.15" lengthAdjust="spacingAndGlyphs">ARAŞTIRMASI</tspan> <tspan x="184.58" textLength="3.94" lengthAdjust="spacingAndGlyphs">/</tspan> <tspan x="192.25" textLength="11.07" lengthAdjust="spacingAndGlyphs">12</tspan> <tspan x="207.36" textLength="31.30" lengthAdjust="spacingAndGlyphs">MAYIS</tspan> <tspan x="242.15" textLength="26.04" lengthAdjust="spacingAndGlyphs">2023</tspan></text>
<text transform="translate(585.93 409.8) scale(0.7217 1)" font-size="10.4" fill="#161616" letter-spacing="0.485" stroke="#161616" stroke-width="0.3" stroke-linejoin="round">www.orcarastirma.com.tr</text>
<rect x="0" y="418" width="690" height="32" fill="#fcf5eb"/>
<rect x="0" y="417.7" width="690" height="1.4" fill="#1a1a1a"/>
</g>
</svg>
</body>
</html>
